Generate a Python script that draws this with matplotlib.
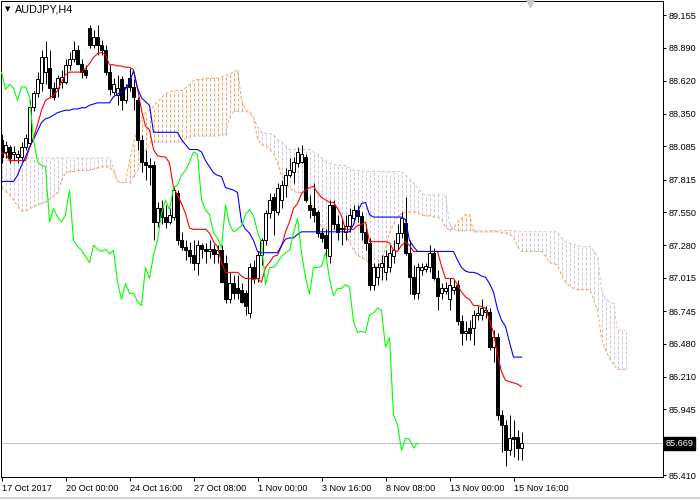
import numpy as np
import matplotlib
matplotlib.use('Agg')
import matplotlib.pyplot as plt
from matplotlib.lines import Line2D

plt.rcParams['lines.scale_dashes'] = False
plt.rcParams['font.family'] = ['Liberation Sans', 'DejaVu Sans']

symbol = 'AUDJPY,H4'

opens = [88.14, 88.04, 88.08, 88.02, 88.00, 88.00, 88.08, 88.11, 88.41, 88.52,
         88.60, 88.69, 88.72, 88.56, 88.56, 88.61, 88.61, 88.75, 88.80, 88.87,
         88.76, 88.71, 89.05, 88.91, 88.98, 88.91, 88.87, 88.69, 88.53, 88.50,
         88.63, 88.46, 88.64, 88.57, 88.46, 88.14, 87.96, 87.93, 87.93, 87.47,
         87.58, 87.51, 87.47, 87.51, 87.71, 87.32, 87.27, 87.24, 87.20, 87.14,
         87.28, 87.25, 87.23, 87.25, 87.21, 87.24, 87.14, 86.84, 86.97, 86.93,
         86.92, 86.89, 86.73, 87.10, 87.01, 87.20, 87.32, 87.54, 87.67, 87.55,
         87.65, 87.77, 87.85, 87.88, 87.95, 87.96, 88.00, 87.61, 87.58, 87.55,
         87.38, 87.36, 87.19, 87.61, 87.45, 87.42, 87.39, 87.44, 87.50, 87.57,
         87.52, 87.39, 87.30, 86.96, 87.02, 87.10, 87.06, 87.10, 87.19, 87.30,
         87.38, 87.46, 87.22, 87.02, 86.89, 87.08, 87.09, 87.10, 87.22, 87.01,
         86.89, 86.91, 86.84, 86.92, 86.96, 86.66, 86.57, 86.61, 86.61, 86.71,
         86.71, 86.74, 86.74, 86.45, 86.53, 85.90, 85.82, 85.61, 85.72, 85.72,
         85.63]
highs = [88.19, 88.13, 88.10, 88.09, 88.06, 88.12, 88.19, 88.46, 88.54, 88.69,
         88.87, 88.94, 88.87, 88.61, 88.67, 88.71, 88.80, 88.85, 88.94, 88.91,
         88.80, 88.75, 89.07, 89.03, 89.07, 88.95, 88.91, 88.75, 88.64, 88.67,
         88.66, 88.59, 88.72, 88.63, 88.49, 88.18, 88.06, 87.99, 87.97, 87.63,
         87.65, 87.61, 87.58, 87.76, 87.73, 87.39, 87.32, 87.31, 87.32, 87.32,
         87.30, 87.30, 87.32, 87.29, 87.28, 87.28, 87.20, 87.06, 87.04, 87.04,
         86.97, 86.92, 87.14, 87.16, 87.23, 87.34, 87.57, 87.71, 87.71, 87.79,
         87.81, 87.91, 87.99, 88.00, 88.08, 88.10, 88.02, 87.69, 87.79, 87.57,
         87.42, 87.41, 87.65, 87.65, 87.53, 87.50, 87.53, 87.58, 87.61, 87.61,
         87.55, 87.45, 87.34, 87.14, 87.14, 87.20, 87.24, 87.28, 87.32, 87.45,
         87.55, 87.67, 87.32, 87.12, 87.14, 87.14, 87.14, 87.28, 87.26, 87.08,
         86.97, 86.98, 87.01, 87.00, 87.00, 86.71, 86.66, 86.67, 86.75, 86.79,
         86.84, 86.79, 86.77, 86.59, 86.57, 85.94, 85.86, 85.90, 85.86, 85.78,
         85.76]
lows = [87.95, 87.99, 87.95, 87.97, 87.95, 87.97, 88.06, 88.09, 88.37, 88.49,
        88.54, 88.59, 88.48, 88.46, 88.49, 88.56, 88.59, 88.71, 88.77, 88.75,
        88.64, 88.64, 88.89, 88.89, 88.83, 88.83, 88.67, 88.50, 88.50, 88.42,
        88.38, 88.44, 88.54, 88.38, 88.06, 87.88, 87.81, 87.77, 87.32, 87.43,
        87.45, 87.42, 87.45, 87.49, 87.28, 87.24, 87.16, 87.14, 87.08, 87.04,
        87.18, 87.14, 87.18, 87.14, 87.14, 86.97, 86.81, 86.81, 86.84, 86.84,
        86.81, 86.71, 86.69, 86.97, 86.98, 87.12, 87.28, 87.50, 87.36, 87.53,
        87.58, 87.67, 87.84, 87.79, 87.92, 87.95, 87.63, 87.50, 87.47, 87.35,
        87.31, 87.18, 87.14, 87.41, 87.32, 87.28, 87.32, 87.39, 87.47, 87.47,
        87.32, 87.24, 86.92, 86.92, 86.96, 87.00, 87.00, 87.06, 87.14, 87.24,
        87.34, 87.20, 86.88, 86.84, 86.84, 87.04, 87.06, 87.06, 87.00, 86.75,
        86.84, 86.88, 86.75, 86.88, 86.63, 86.47, 86.51, 86.51, 86.47, 86.67,
        86.67, 86.69, 86.43, 86.33, 85.86, 85.60, 85.48, 85.57, 85.56, 85.53,
        85.53]
closes = [88.00, 88.10, 87.99, 88.04, 88.02, 88.08, 88.15, 88.41, 88.52, 88.63,
          88.81, 88.81, 88.56, 88.49, 88.64, 88.65, 88.75, 88.80, 88.87, 88.76,
          88.69, 88.67, 88.91, 88.98, 88.91, 88.87, 88.69, 88.55, 88.59, 88.56,
          88.46, 88.57, 88.57, 88.49, 88.14, 87.96, 87.93, 87.92, 87.47, 87.58,
          87.51, 87.47, 87.53, 87.73, 87.32, 87.27, 87.24, 87.19, 87.14, 87.28,
          87.25, 87.23, 87.25, 87.21, 87.24, 86.98, 86.84, 86.97, 86.89, 86.89,
          86.82, 86.79, 87.10, 87.01, 87.20, 87.32, 87.54, 87.65, 87.57, 87.75,
          87.77, 87.85, 87.89, 87.96, 88.04, 88.02, 87.65, 87.57, 87.53, 87.38,
          87.34, 87.26, 87.61, 87.45, 87.39, 87.41, 87.44, 87.53, 87.57, 87.52,
          87.39, 87.30, 86.96, 87.10, 87.10, 87.14, 87.19, 87.22, 87.24, 87.38,
          87.50, 87.22, 87.02, 86.88, 87.10, 87.10, 87.11, 87.22, 87.01, 86.87,
          86.93, 86.93, 86.96, 86.94, 86.66, 86.57, 86.58, 86.57, 86.71, 86.73,
          86.77, 86.75, 86.45, 86.53, 85.90, 85.82, 85.61, 85.71, 85.70, 85.63,
          85.67]

tenkan = [88.03, 88.03, 87.97, 87.97, 87.97, 87.97, 87.97, 88.07, 88.16, 88.26,
          88.38, 88.46, 88.48, 88.50, 88.54, 88.61, 88.67, 88.69, 88.69, 88.69,
          88.69, 88.72, 88.76, 88.81, 88.84, 88.85, 88.83, 88.75, 88.75, 88.74,
          88.74, 88.73, 88.73, 88.71, 88.56, 88.38, 88.25, 88.22, 88.06, 88.01,
          88.00, 88.00, 87.95, 87.75, 87.69, 87.62, 87.54, 87.42, 87.41, 87.41,
          87.41, 87.41, 87.38, 87.31, 87.27, 87.14, 87.06, 87.06, 87.06, 87.06,
          87.03, 87.01, 87.01, 87.00, 87.01, 86.98, 87.10, 87.14, 87.19, 87.20,
          87.27, 87.39, 87.47, 87.58, 87.62, 87.70, 87.73, 87.75, 87.76, 87.71,
          87.67, 87.65, 87.63, 87.63, 87.58, 87.52, 87.41, 87.41, 87.41, 87.44,
          87.45, 87.47, 87.31, 87.31, 87.31, 87.31, 87.31, 87.30, 87.24, 87.23,
          87.28, 87.31, 87.28, 87.23, 87.23, 87.23, 87.23, 87.23, 87.23, 87.23,
          87.11, 87.01, 87.01, 87.01, 86.96, 86.90, 86.86, 86.84, 86.79, 86.79,
          86.78, 86.77, 86.67, 86.57, 86.39, 86.25, 86.18, 86.17, 86.16, 86.15,
          86.13]
kijun = [87.80, 87.80, 87.80, 87.80, 87.85, 87.93, 88.00, 88.08, 88.14, 88.21,
         88.28, 88.31, 88.32, 88.34, 88.36, 88.37, 88.38, 88.38, 88.39, 88.39,
         88.40, 88.40, 88.42, 88.43, 88.44, 88.44, 88.44, 88.44, 88.49, 88.51,
         88.53, 88.55, 88.61, 88.70, 88.56, 88.48, 88.45, 88.42, 88.20, 88.20,
         88.20, 88.20, 88.20, 88.20, 88.20, 88.14, 88.10, 88.06, 88.06, 88.06,
         88.04, 87.97, 87.92, 87.87, 87.85, 87.84, 87.75, 87.74, 87.73, 87.71,
         87.47, 87.41, 87.38, 87.32, 87.23, 87.22, 87.22, 87.22, 87.22, 87.22,
         87.28, 87.33, 87.34, 87.34, 87.37, 87.39, 87.39, 87.39, 87.39, 87.39,
         87.39, 87.39, 87.39, 87.39, 87.39, 87.39, 87.39, 87.39, 87.45, 87.55,
         87.62, 87.63, 87.53, 87.51, 87.51, 87.51, 87.51, 87.51, 87.51, 87.51,
         87.51, 87.49, 87.32, 87.27, 87.23, 87.23, 87.23, 87.23, 87.23, 87.23,
         87.23, 87.23, 87.23, 87.23, 87.16, 87.10, 87.07, 87.06, 87.06, 87.05,
         87.03, 87.02, 86.97, 86.90, 86.76, 86.67, 86.62, 86.49, 86.37, 86.37,
         86.37]
span_a = [87.75, 87.72, 87.69, 87.65, 87.60, 87.56, 87.56, 87.58, 87.59, 87.61,
          87.62, 87.63, 87.66, 87.68, 87.71, 87.81, 87.87, 87.88, 87.88, 87.89,
          87.89, 87.89, 87.89, 87.90, 87.91, 87.92, 87.92, 87.92, 87.88, 87.80,
          87.79, 87.79, 87.97, 88.10, 88.24, 88.32, 88.36, 88.38, 88.41, 88.45,
          88.48, 88.51, 88.53, 88.54, 88.54, 88.54, 88.56, 88.59, 88.62, 88.63,
          88.63, 88.64, 88.64, 88.64, 88.64, 88.65, 88.66, 88.67, 88.69, 88.71,
          88.46, 88.38, 88.37, 88.32, 88.15, 88.10, 88.09, 88.06, 88.03, 87.95,
          87.85, 87.78, 87.75, 87.72, 87.71, 87.71, 87.70, 87.65, 87.59, 87.50,
          87.43, 87.41, 87.41, 87.41, 87.41, 87.41, 87.37, 87.31, 87.24, 87.20,
          87.18, 87.16, 87.14, 87.12, 87.10, 87.14, 87.26, 87.38, 87.45, 87.51,
          87.54, 87.55, 87.55, 87.55, 87.54, 87.53, 87.52, 87.52, 87.51, 87.51,
          87.49, 87.43, 87.40, 87.42, 87.47, 87.50, 87.53, 87.53, 87.39, 87.39,
          87.39, 87.39, 87.39, 87.39, 87.39, 87.38, 87.38, 87.37, 87.35, 87.27,
          87.23, 87.23, 87.23, 87.23, 87.23, 87.23, 87.19, 87.14, 87.13, 87.12,
          87.04, 86.98, 86.95, 86.93, 86.92, 86.92, 86.92, 86.92, 86.84, 86.75,
          86.53, 86.43, 86.36, 86.31, 86.27, 86.27, 86.27]
span_b = [87.97, 87.97, 87.97, 87.98, 87.99, 87.99, 87.99, 87.99, 87.99, 87.99,
          87.99, 87.99, 87.99, 87.99, 87.99, 87.99, 87.99, 87.99, 87.99, 87.99,
          87.99, 87.99, 87.99, 87.99, 87.99, 87.99, 87.99, 87.99, 87.91, 87.80,
          87.79, 87.79, 87.79, 87.84, 87.89, 87.96, 88.06, 88.11, 88.12, 88.12,
          88.12, 88.12, 88.12, 88.12, 88.12, 88.12, 88.15, 88.16, 88.17, 88.17,
          88.17, 88.17, 88.17, 88.17, 88.17, 88.18, 88.18, 88.32, 88.37, 88.37,
          88.37, 88.37, 88.36, 88.32, 88.24, 88.20, 88.19, 88.19, 88.18, 88.14,
          88.12, 88.09, 88.06, 88.06, 88.06, 88.06, 88.06, 88.06, 88.04, 88.02,
          87.99, 87.97, 87.95, 87.94, 87.93, 87.93, 87.93, 87.91, 87.89, 87.89,
          87.88, 87.88, 87.88, 87.88, 87.88, 87.88, 87.88, 87.88, 87.88, 87.88,
          87.88, 87.85, 87.82, 87.79, 87.75, 87.71, 87.69, 87.69, 87.69, 87.69,
          87.69, 87.69, 87.45, 87.41, 87.40, 87.40, 87.40, 87.40, 87.40, 87.40,
          87.40, 87.40, 87.40, 87.40, 87.40, 87.40, 87.40, 87.40, 87.40, 87.39,
          87.39, 87.39, 87.39, 87.39, 87.39, 87.39, 87.39, 87.39, 87.39, 87.39,
          87.34, 87.31, 87.30, 87.29, 87.28, 87.27, 87.27, 87.27, 87.24, 87.19,
          86.92, 86.84, 86.82, 86.81, 86.59, 86.59, 86.59]

time_labels = ['17 Oct 2017', '20 Oct 00:00', '24 Oct 16:00', '27 Oct 08:00',
               '1 Nov 00:00', '3 Nov 16:00', '8 Nov 08:00', '13 Nov 00:00',
               '15 Nov 16:00']
price_ticks = [89.155, 88.890, 88.620, 88.350, 88.085, 87.815, 87.550,
               87.280, 87.015, 86.745, 86.480, 86.210, 85.945, 85.410]
last_price = 85.669
shift = 26
bars_per_label = 16

PX = 0.72  # one pixel in points at 100 dpi
DOT = (0, (3 * PX, 2 * PX))
ORANGE = '#F4A460'
THISTLE = '#D8BFD8'
FS = 6.6

fig = plt.figure(figsize=(7, 5), dpi=100)
ax = fig.add_axes([0.5 / 700, 23 / 500, 662.5 / 700, 476 / 500])

o = np.array(opens); h = np.array(highs); l = np.array(lows); c = np.array(closes)
n = len(c)
x = np.arange(n)
a = np.array(span_a); b = np.array(span_b)
xc = np.arange(len(a))

# current price line
ax.axhline(last_price, color='#C0C0C0', lw=PX, zorder=1)

# cloud hatch
cols = [ORANGE if av >= bv else THISTLE for av, bv in zip(a, b)]
ax.vlines(xc, np.minimum(a, b), np.maximum(a, b), colors=cols,
          linewidth=PX, linestyles=[DOT], zorder=2)
ax.plot(xc, a, color=ORANGE, lw=PX, ls=DOT, zorder=2)
ax.plot(xc, b, color=THISTLE, lw=PX, ls=DOT, zorder=2)

# candles
ax.vlines(x, l, h, color='black', linewidth=PX, zorder=3)
bull = c >= o
bear = ~bull
body = np.maximum(np.abs(c - o), 0.004)
ax.bar(x[bull], body[bull], bottom=o[bull], width=0.55, facecolor='white',
       edgecolor='black', linewidth=PX, zorder=4)
ax.bar(x[bear], body[bear], bottom=c[bear], width=0.55, facecolor='black',
       edgecolor='black', linewidth=PX, zorder=4)

# ichimoku lines
ax.plot(x, tenkan, color='red', lw=PX * 1.1, zorder=5)
ax.plot(x, kijun, color='blue', lw=PX * 1.1, zorder=5)
ax.plot(x[shift:] - shift, c[shift:], color='#00FF00', lw=PX * 1.1, zorder=5)

ax.set_xlim(-0.25, 165.375)
ax.set_ylim(85.394, 89.269)

for sp in ax.spines.values():
    sp.set_color('black')
    sp.set_linewidth(PX)

ax.yaxis.tick_right()
ax.set_yticks(price_ticks)
ax.set_yticklabels(['%.3f' % v for v in price_ticks])
ax.tick_params(axis='y', direction='out', length=3 * PX, width=PX,
               labelsize=FS, pad=2, colors='black')
ax.set_xticks(np.arange(0, n, bars_per_label))
ax.set_xticklabels(time_labels)
for t in ax.get_xticklabels():
    t.set_horizontalalignment('left')
ax.tick_params(axis='x', direction='out', length=4 * PX, width=PX,
               labelsize=FS, pad=2, colors='black')

# last price tag
ax.text(1.004, last_price, '%.3f' % last_price, transform=ax.get_yaxis_transform(),
        color='white', fontsize=FS, ha='left', va='center', zorder=10,
        bbox=dict(boxstyle='square,pad=0.2', facecolor='black', edgecolor='black'),
        clip_on=False)

# header
fig.text(5 / 700, 1 - 9 / 500, '\u25BC', fontsize=5, va='center', ha='left',
         family=['DejaVu Sans'])
fig.text(15 / 700, 1 - 9 / 500, symbol, fontsize=7.8, va='center', ha='left')

# shift marker
ax.plot([(530 - 0.5) / 662.5], [1 - 2 / 476], marker='v', markersize=6,
        color='#C8C8C8', transform=ax.transAxes, clip_on=False, zorder=10)

fig.add_artist(Line2D([0, 1], [2 / 500, 2 / 500], color='#D4D4D4', lw=1.5))

fig.savefig('out.png', dpi=100, facecolor='white')
